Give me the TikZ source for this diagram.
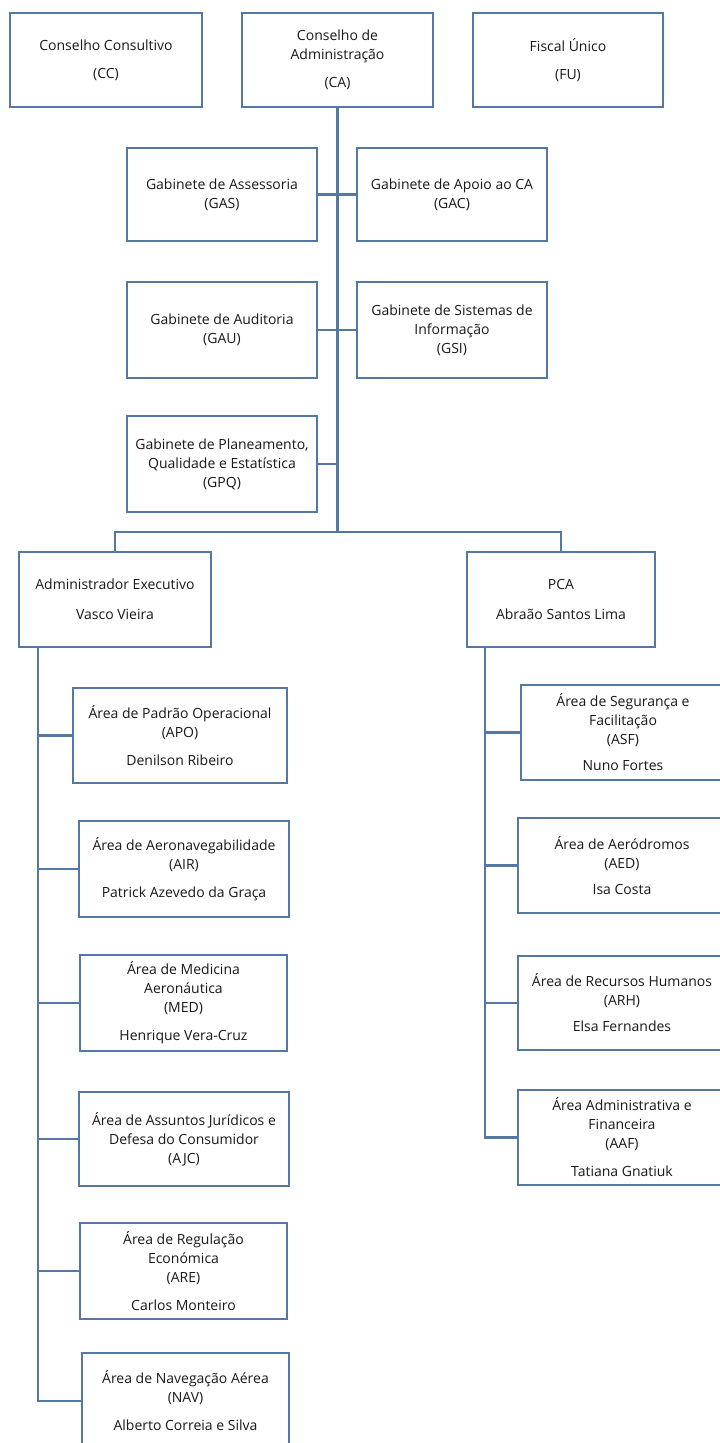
\documentclass[tikz,border=0pt]{standalone}
\usepackage{fontspec}
\setmainfont{Open Sans}
\usepackage{tikz}

\definecolor{boxblue}{RGB}{84,120,164}
\definecolor{textgray}{RGB}{25,25,25}

\tikzset{
	unit/.style={draw=boxblue, line width=2.8pt, fill=white, align=center,
		text=textgray, inner sep=0pt, font=\fontsize{14}{19}\selectfont},
	link/.style={draw=boxblue, line width=2.8pt},
}

% box given by its corners (x1,y1) and (x2,y2), in pixels from the top left
\newcommand{\orgunit}[6]{
	\node[unit, minimum width={#4-#2}, minimum height={#5-#3}]
		(#1) at ({(#2+#4)/2}, {(#3+#5)/2}) {#6};
}

\begin{document}
\begin{tikzpicture}[x=1pt, y=-1pt]
		\useasboundingbox (0,0) rectangle (720,1443);
		\clip (0,0) rectangle (720,1443);

		%% board
		\orgunit{cc}{10}{13}{202}{107}{Conselho Consultivo\\[9pt](CC)}
		\orgunit{ca}{242}{13}{433}{107}{Conselho de\\Administração\\[9pt](CA)}
		\orgunit{fu}{473}{13}{663}{107}{Fiscal Único\\[9pt](FU)}

		%% offices
		\orgunit{gas}{127}{148}{317}{241}{Gabinete de Assessoria\\(GAS)}
		\orgunit{gac}{357}{148}{547}{241}{Gabinete de Apoio ao CA\\(GAC)}
		\orgunit{gau}{127}{282}{317}{378}{Gabinete de Auditoria\\(GAU)}
		\orgunit{gsi}{357}{282}{547}{378}{Gabinete de Sistemas de\\Informação\\(GSI)}
		\orgunit{gpq}{127}{416}{317}{512}{Gabinete de Planeamento,\\Qualidade e Estatística\\(GPQ)}

		%% administrators
		\orgunit{adm}{19}{552}{211}{647}{Administrador Executivo\\[11pt]Vasco Vieira}
		\orgunit{pca}{467}{552}{655}{647}{PCA\\[11pt]Abraão Santos Lima}

		%% left column
		\orgunit{apo}{73}{688}{287}{783}{Área de Padrão Operacional\\(APO)\\[9pt]Denilson Ribeiro}
		\orgunit{air}{79}{821}{289}{917}{Área de Aeronavegabilidade\\(AIR)\\[9pt]Patrick Azevedo da Graça}
		\orgunit{med}{80}{955}{287}{1051}{Área de Medicina\\Aeronáutica\\(MED)\\[9pt]Henrique Vera-Cruz}
		\orgunit{ajc}{79}{1092}{289}{1186}{Área de Assuntos Jurídicos e\\Defesa do Consumidor\\(AJC)}
		\orgunit{are}{80}{1223}{287}{1319}{Área de Regulação\\Económica\\(ARE)\\[9pt]Carlos Monteiro}
		\orgunit{nav}{82}{1353}{289}{1449}{Área de Navegação Aérea\\(NAV)\\[9pt]Alberto Correia e Silva}

		%% right column
		\orgunit{asf}{521}{685}{725}{780}{Área de Segurança e\\Facilitação\\(ASF)\\[7pt]Nuno Fortes}
		\orgunit{aed}{518}{818}{726}{913}{Área de Aeródromos\\(AED)\\[7pt]Isa Costa}
		\orgunit{arh}{518}{956}{726}{1050}{Área de Recursos Humanos\\(ARH)\\[7pt]Elsa Fernandes}
		\orgunit{aaf}{518}{1090}{726}{1185}{Área Administrativa e\\Financeira\\(AAF)\\[9pt]Tatiana Gnatiuk}

		%% connectors
		\coordinate (barL) at (115,532);
		\coordinate (barM) at (337.5,532);
		\coordinate (barR) at (561,532);
		\coordinate (lspine) at (38,647);
		\coordinate (rspine) at (485,647);

		% trunk and offices
		\draw[link] (ca.south) -- (barM);
		\draw[link] (gas.east) -- (gac.west);
		\draw[link] (gau.east) -- (gsi.west);
		\draw[link] (gpq.east) -- (gpq.east -| barM);

		% split to the administrators
		\draw[link] (adm.north) -- (barL) -- (barR) -- (pca.north);

		% left spine
		\draw[link] (lspine) |- (nav.west);
		\foreach \u in {apo, air, med, ajc, are}
			\draw[link] (\u.west) -- (\u.west -| lspine);

		% right spine
		\draw[link] (rspine) |- (aaf.west);
		\foreach \u in {asf, aed, arh}
			\draw[link] (\u.west) -- (\u.west -| rspine);
	\end{tikzpicture}
\end{document}
